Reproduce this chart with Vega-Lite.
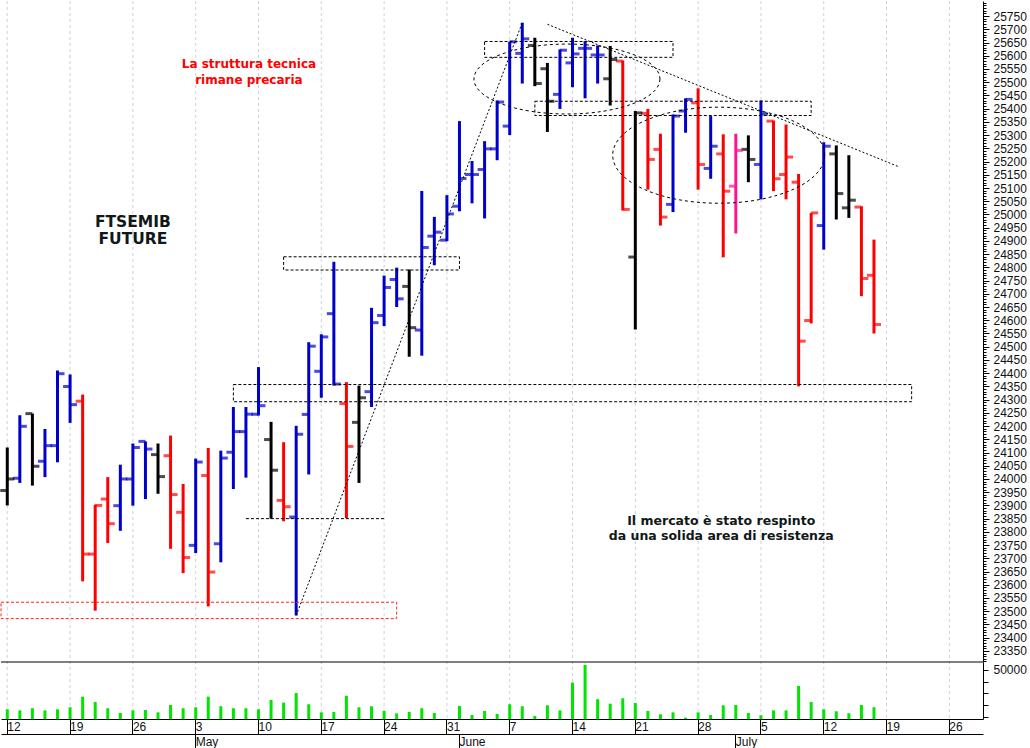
{
  "$schema": "https://vega.github.io/schema/vega-lite/v6.json",
  "width": 982,
  "height": 718,
  "padding": 0,
  "background": "white",
  "config": {
    "view": {"stroke": null},
    "font": "Liberation Sans",
    "axis": {"labelFont": "Liberation Sans", "labelFontSize": 12, "labelColor": "#111111", "tickColor": "#000000", "domainColor": "#000000", "title": null}
  },
  "datasets": {
    "mondays": [
      {"d":"2021-04-12"},{"d":"2021-04-19"},{"d":"2021-04-26"},{"d":"2021-05-03"},{"d":"2021-05-10"},{"d":"2021-05-17"},{"d":"2021-05-24"},{"d":"2021-05-31"},
      {"d":"2021-06-07"},{"d":"2021-06-14"},{"d":"2021-06-21"},{"d":"2021-06-28"},{"d":"2021-07-05"},{"d":"2021-07-12"},{"d":"2021-07-19"},{"d":"2021-07-26"}
    ],
    "ohlc": [
      {"d":"2021-04-12","o":23956,"h":24119,"l":23900,"c":24000,"k":"k"},
      {"d":"2021-04-13","o":24003,"h":24241,"l":23985,"c":24199,"k":"b"},
      {"d":"2021-04-14","o":24247,"h":24247,"l":23975,"c":24048,"k":"k"},
      {"d":"2021-04-15","o":24067,"h":24189,"l":24007,"c":24126,"k":"b"},
      {"d":"2021-04-16","o":24126,"h":24410,"l":24063,"c":24398,"k":"b"},
      {"d":"2021-04-19","o":24350,"h":24395,"l":24212,"c":24281,"k":"b"},
      {"d":"2021-04-20","o":24294,"h":24319,"l":23613,"c":23716,"k":"r"},
      {"d":"2021-04-21","o":23716,"h":23903,"l":23502,"c":23900,"k":"r"},
      {"d":"2021-04-22","o":23924,"h":24007,"l":23758,"c":23831,"k":"r"},
      {"d":"2021-04-23","o":23899,"h":24054,"l":23804,"c":24000,"k":"b"},
      {"d":"2021-04-26","o":24000,"h":24134,"l":23899,"c":24119,"k":"b"},
      {"d":"2021-04-27","o":24142,"h":24142,"l":23924,"c":24113,"k":"b"},
      {"d":"2021-04-28","o":24092,"h":24134,"l":23944,"c":24009,"k":"k"},
      {"d":"2021-04-29","o":24088,"h":24164,"l":23736,"c":23941,"k":"r"},
      {"d":"2021-04-30","o":23874,"h":23981,"l":23644,"c":23703,"k":"r"},
      {"d":"2021-05-03","o":23749,"h":24077,"l":23720,"c":24064,"k":"b"},
      {"d":"2021-05-04","o":24013,"h":24117,"l":23518,"c":23648,"k":"r"},
      {"d":"2021-05-05","o":23755,"h":24107,"l":23685,"c":24079,"k":"b"},
      {"d":"2021-05-06","o":24101,"h":24272,"l":23962,"c":24179,"k":"b"},
      {"d":"2021-05-07","o":24179,"h":24272,"l":24005,"c":24245,"k":"b"},
      {"d":"2021-05-10","o":24245,"h":24423,"l":24240,"c":24277,"k":"b"},
      {"d":"2021-05-11","o":24149,"h":24216,"l":23850,"c":24033,"k":"k"},
      {"d":"2021-05-12","o":23919,"h":24139,"l":23840,"c":23895,"k":"r"},
      {"d":"2021-05-13","o":23856,"h":24201,"l":23484,"c":24169,"k":"b"},
      {"d":"2021-05-14","o":24244,"h":24517,"l":24017,"c":24502,"k":"b"},
      {"d":"2021-05-17","o":24407,"h":24547,"l":24307,"c":24537,"k":"b"},
      {"d":"2021-05-18","o":24625,"h":24821,"l":24353,"c":24359,"k":"b"},
      {"d":"2021-05-19","o":24285,"h":24366,"l":23852,"c":24123,"k":"r"},
      {"d":"2021-05-20","o":24214,"h":24353,"l":23985,"c":24307,"k":"k"},
      {"d":"2021-05-21","o":24330,"h":24647,"l":24272,"c":24591,"k":"b"},
      {"d":"2021-05-24","o":24618,"h":24769,"l":24578,"c":24724,"k":"b"},
      {"d":"2021-05-25","o":24754,"h":24799,"l":24650,"c":24681,"k":"b"},
      {"d":"2021-05-26","o":24728,"h":24792,"l":24462,"c":24572,"k":"k"},
      {"d":"2021-05-27","o":24563,"h":25089,"l":24466,"c":24875,"k":"b"},
      {"d":"2021-05-28","o":24918,"h":24991,"l":24808,"c":24933,"k":"b"},
      {"d":"2021-05-31","o":24903,"h":25073,"l":24899,"c":25002,"k":"b"},
      {"d":"2021-06-01","o":25031,"h":25353,"l":25012,"c":25136,"k":"b"},
      {"d":"2021-06-02","o":25151,"h":25202,"l":25042,"c":25151,"k":"b"},
      {"d":"2021-06-03","o":25170,"h":25277,"l":24985,"c":25248,"k":"b"},
      {"d":"2021-06-04","o":25248,"h":25431,"l":25205,"c":25425,"k":"b"},
      {"d":"2021-06-07","o":25334,"h":25653,"l":25300,"c":25653,"k":"b"},
      {"d":"2021-06-08","o":25609,"h":25725,"l":25495,"c":25664,"k":"b"},
      {"d":"2021-06-09","o":25639,"h":25668,"l":25485,"c":25495,"k":"k"},
      {"d":"2021-06-10","o":25551,"h":25573,"l":25312,"c":25428,"k":"k"},
      {"d":"2021-06-11","o":25454,"h":25624,"l":25399,"c":25621,"k":"b"},
      {"d":"2021-06-14","o":25573,"h":25668,"l":25481,"c":25607,"k":"b"},
      {"d":"2021-06-15","o":25628,"h":25655,"l":25439,"c":25628,"k":"b"},
      {"d":"2021-06-16","o":25603,"h":25639,"l":25495,"c":25603,"k":"b"},
      {"d":"2021-06-17","o":25513,"h":25637,"l":25412,"c":25586,"k":"k"},
      {"d":"2021-06-18","o":25580,"h":25582,"l":25015,"c":25019,"k":"r"},
      {"d":"2021-06-21","o":24839,"h":25391,"l":24565,"c":25384,"k":"k"},
      {"d":"2021-06-22","o":25382,"h":25399,"l":25094,"c":25208,"k":"r"},
      {"d":"2021-06-23","o":25246,"h":25305,"l":24958,"c":24990,"k":"r"},
      {"d":"2021-06-24","o":25038,"h":25378,"l":25009,"c":25372,"k":"b"},
      {"d":"2021-06-25","o":25391,"h":25439,"l":25309,"c":25435,"k":"b"},
      {"d":"2021-06-28","o":25422,"h":25477,"l":25094,"c":25189,"k":"r"},
      {"d":"2021-06-29","o":25174,"h":25372,"l":25135,"c":25258,"k":"b"},
      {"d":"2021-06-30","o":25229,"h":25303,"l":24838,"c":25088,"k":"r"},
      {"d":"2021-07-01","o":25107,"h":25305,"l":24928,"c":25242,"k":"p"},
      {"d":"2021-07-02","o":25246,"h":25299,"l":25122,"c":25208,"k":"k"},
      {"d":"2021-07-05","o":25189,"h":25431,"l":25057,"c":25380,"k":"b"},
      {"d":"2021-07-06","o":25353,"h":25355,"l":25088,"c":25135,"k":"r"},
      {"d":"2021-07-07","o":25151,"h":25340,"l":25057,"c":25217,"k":"r"},
      {"d":"2021-07-08","o":25122,"h":25153,"l":24350,"c":24521,"k":"r"},
      {"d":"2021-07-09","o":24599,"h":25006,"l":24588,"c":25006,"k":"r"},
      {"d":"2021-07-12","o":24958,"h":25273,"l":24867,"c":25258,"k":"b"},
      {"d":"2021-07-13","o":25229,"h":25261,"l":24981,"c":25079,"k":"k"},
      {"d":"2021-07-14","o":25025,"h":25224,"l":24987,"c":25054,"k":"k"},
      {"d":"2021-07-15","o":25028,"h":25031,"l":24691,"c":24758,"k":"r"},
      {"d":"2021-07-16","o":24770,"h":24905,"l":24550,"c":24584,"k":"r"}
    ],
    "vol": [
      {"d":"2021-04-12","v":16400},{"d":"2021-04-13","v":15500},{"d":"2021-04-14","v":17300},{"d":"2021-04-15","v":15500},{"d":"2021-04-16","v":16400},
      {"d":"2021-04-19","v":18100},{"d":"2021-04-20","v":27200},{"d":"2021-04-21","v":22600},{"d":"2021-04-22","v":17300},{"d":"2021-04-23","v":13200},
      {"d":"2021-04-26","v":15500},{"d":"2021-04-27","v":15800},{"d":"2021-04-28","v":13800},{"d":"2021-04-29","v":20100},{"d":"2021-04-30","v":17300},
      {"d":"2021-05-03","v":18100},{"d":"2021-05-04","v":27200},{"d":"2021-05-05","v":19000},{"d":"2021-05-06","v":17300},{"d":"2021-05-07","v":17300},
      {"d":"2021-05-10","v":16400},{"d":"2021-05-11","v":24400},{"d":"2021-05-12","v":22100},{"d":"2021-05-13","v":30300},{"d":"2021-05-14","v":20700},
      {"d":"2021-05-17","v":13800},{"d":"2021-05-18","v":14100},{"d":"2021-05-19","v":28000},{"d":"2021-05-20","v":18100},{"d":"2021-05-21","v":19000},
      {"d":"2021-05-24","v":15000},{"d":"2021-05-25","v":12900},{"d":"2021-05-26","v":14100},{"d":"2021-05-27","v":17300},{"d":"2021-05-28","v":13200},
      {"d":"2021-06-01","v":19200},{"d":"2021-06-02","v":11500},{"d":"2021-06-03","v":15000},{"d":"2021-06-04","v":12400},
      {"d":"2021-06-07","v":20700},{"d":"2021-06-08","v":19000},{"d":"2021-06-09","v":10700},{"d":"2021-06-10","v":19800},{"d":"2021-06-11","v":15500},
      {"d":"2021-06-14","v":39200},{"d":"2021-06-15","v":54300},{"d":"2021-06-16","v":25000},{"d":"2021-06-17","v":21200},{"d":"2021-06-18","v":25800},
      {"d":"2021-06-21","v":21800},{"d":"2021-06-22","v":15000},{"d":"2021-06-23","v":12100},{"d":"2021-06-24","v":13800},{"d":"2021-06-25","v":9200},
      {"d":"2021-06-28","v":13800},{"d":"2021-06-29","v":11500},{"d":"2021-06-30","v":19800},{"d":"2021-07-01","v":20100},{"d":"2021-07-02","v":13200},
      {"d":"2021-07-05","v":11300},{"d":"2021-07-06","v":15500},{"d":"2021-07-07","v":15500},{"d":"2021-07-08","v":36300},{"d":"2021-07-09","v":22600},
      {"d":"2021-07-12","v":16400},{"d":"2021-07-13","v":14700},{"d":"2021-07-14","v":13000},{"d":"2021-07-15","v":20100},{"d":"2021-07-16","v":18100}
    ]
  },
  "layer": [
    {
      "data": {"name": "mondays"},
      "mark": {"type": "rule", "stroke": "#cdd2e2", "strokeWidth": 1, "strokeDash": [3, 3]},
      "encoding": {
        "x": {"field": "d", "type": "ordinal",
          "scale": {"type": "band", "paddingInner": 0, "paddingOuter": 0.09, "align": 0,
            "domain": ["2021-04-12","2021-04-13","2021-04-14","2021-04-15","2021-04-16","2021-04-19","2021-04-20","2021-04-21","2021-04-22","2021-04-23","2021-04-26","2021-04-27","2021-04-28","2021-04-29","2021-04-30","2021-05-03","2021-05-04","2021-05-05","2021-05-06","2021-05-07","2021-05-10","2021-05-11","2021-05-12","2021-05-13","2021-05-14","2021-05-17","2021-05-18","2021-05-19","2021-05-20","2021-05-21","2021-05-24","2021-05-25","2021-05-26","2021-05-27","2021-05-28","2021-05-31","2021-06-01","2021-06-02","2021-06-03","2021-06-04","2021-06-07","2021-06-08","2021-06-09","2021-06-10","2021-06-11","2021-06-14","2021-06-15","2021-06-16","2021-06-17","2021-06-18","2021-06-21","2021-06-22","2021-06-23","2021-06-24","2021-06-25","2021-06-28","2021-06-29","2021-06-30","2021-07-01","2021-07-02","2021-07-05","2021-07-06","2021-07-07","2021-07-08","2021-07-09","2021-07-12","2021-07-13","2021-07-14","2021-07-15","2021-07-16","2021-07-19","2021-07-20","2021-07-21","2021-07-22","2021-07-23","2021-07-26","2021-07-27","2021-07-28"]},
          "axis": {"orient": "bottom", "values": ["2021-04-12","2021-04-19","2021-04-26","2021-05-03","2021-05-10","2021-05-17","2021-05-24","2021-05-31","2021-06-07","2021-06-14","2021-06-21","2021-06-28","2021-07-05","2021-07-12","2021-07-19","2021-07-26"],
            "labelExpr": "toNumber(slice(datum.value, 8))",
            "bandPosition": 0.5, "tickSize": 15, "labelAngle": 0, "labelAlign": "left", "labelBaseline": "top", "labelPadding": -13, "labelDx": 3,
            "grid": false, "domain": true, "labelOverlap": false, "labelFlush": false, "labelBound": false, "title": null}}
      }
    },
    {
      "data": {"name": "ohlc"},
      "mark": {"type": "rule", "strokeWidth": 3},
      "encoding": {
        "x": {"field": "d", "type": "ordinal", "scale": {"type": "band"},
          "axis": {"orient": "bottom", "offset": 15, "values": ["2021-05-03","2021-06-01","2021-07-01"],
            "labelExpr": "datum.value == '2021-05-03' ? 'May' : (datum.value == '2021-06-01' ? 'June' : 'July')",
            "bandPosition": 0.5, "tickSize": 15, "labelAngle": 0, "labelAlign": "left", "labelBaseline": "top", "labelPadding": -13, "labelDx": 3,
            "grid": false, "domain": true, "labelOverlap": false, "labelFlush": false, "labelBound": false, "title": null}},
        "y": {"field": "l", "type": "quantitative",
          "scale": {"domain": [23308, 25807], "range": [661, 0], "nice": false, "zero": false},
          "axis": {"orient": "right", "format": "d", "values": [23350,23400,23450,23500,23550,23600,23650,23700,23750,23800,23850,23900,23950,24000,24050,24100,24150,24200,24250,24300,24350,24400,24450,24500,24550,24600,24650,24700,24750,24800,24850,24900,24950,25000,25050,25100,25150,25200,25250,25300,25350,25400,25450,25500,25550,25600,25650,25700,25750],
            "tickSize": 6, "labelPadding": 4, "grid": false, "domain": true, "labelOverlap": false, "labelFlush": false, "labelBound": false, "title": null}},
        "y2": {"field": "h"},
        "color": {"field": "k", "type": "nominal", "scale": {"domain": ["b","r","k","p"], "range": ["#0000cc","#ff0000","#000000","#ff1493"]}, "legend": null}
      }
    },
    {
      "data": {"name": "ohlc"},
      "mark": {"type": "tick", "orient": "horizontal", "size": 7, "thickness": 3, "xOffset": -3.5},
      "encoding": {
        "x": {"field": "d", "type": "ordinal", "scale": {"type": "band"}, "axis": null},
        "y": {"field": "o", "type": "quantitative",
          "scale": {"domain": [23308, 25807], "range": [661, 0], "nice": false, "zero": false},
          "axis": {"orient": "right", "tickCount": 250, "tickSize": 3, "labels": false, "domain": false, "grid": false, "title": null}},
        "color": {"field": "k", "type": "nominal", "scale": {"domain": ["b","r","k","p"], "range": ["#0000cc","#ff0000","#000000","#ff1493"]}, "legend": null}
      }
    },
    {
      "data": {"name": "ohlc"},
      "mark": {"type": "tick", "orient": "horizontal", "size": 7, "thickness": 3, "xOffset": 3.5},
      "encoding": {
        "x": {"field": "d", "type": "ordinal", "scale": {"type": "band"}, "axis": null},
        "y": {"field": "c", "type": "quantitative", "scale": {"domain": [23308, 25807], "range": [661, 0], "nice": false, "zero": false}, "axis": null},
        "color": {"field": "k", "type": "nominal", "scale": {"domain": ["b","r","k","p"], "range": ["#0000cc","#ff0000","#000000","#ff1493"]}, "legend": null}
      }
    },
    {
      "data": {"values": [
        {"d":"2021-05-12","d2":"2021-06-01","p":24790,"p2":24840},
        {"d":"2021-05-06","d2":"2021-07-21","p":24292,"p2":24357},
        {"d":"2021-06-03","d2":"2021-06-24","p":25594,"p2":25654},
        {"d":"2021-06-09","d2":"2021-07-09","p":25374,"p2":25428}
      ]},
      "mark": {"type": "rect", "filled": false, "stroke": "#000000", "strokeWidth": 1, "strokeDash": [3, 2]},
      "encoding": {
        "x": {"field": "d", "type": "ordinal", "bandPosition": 0.5, "scale": {"type": "band"}, "axis": null},
        "x2": {"field": "d2", "bandPosition": 0.5},
        "y": {"field": "p", "type": "quantitative", "scale": {"domain": [23308, 25807], "range": [661, 0], "nice": false, "zero": false}, "axis": null},
        "y2": {"field": "p2"}
      }
    },
    {
      "data": {"values": [{"d":"2021-04-12","d2":"2021-05-25","p":23472,"p2":23534}]},
      "mark": {"type": "rect", "filled": false, "stroke": "#ff2020", "strokeWidth": 1, "strokeDash": [3, 2]},
      "encoding": {
        "x": {"field": "d", "type": "ordinal", "bandPosition": 0, "scale": {"type": "band"}, "axis": null},
        "x2": {"field": "d2", "bandPosition": 0.5},
        "y": {"field": "p", "type": "quantitative", "scale": {"domain": [23308, 25807], "range": [661, 0], "nice": false, "zero": false}, "axis": null},
        "y2": {"field": "p2"}
      }
    },
    {
      "data": {"values": [{"d":"2021-05-07","d2":"2021-05-24","p":23850}]},
      "mark": {"type": "rule", "stroke": "#000000", "strokeWidth": 1, "strokeDash": [3, 2]},
      "encoding": {
        "x": {"field": "d", "type": "ordinal", "bandPosition": 0.5, "scale": {"type": "band"}, "axis": null},
        "x2": {"field": "d2", "bandPosition": 0.5},
        "y": {"field": "p", "type": "quantitative", "scale": {"domain": [23308, 25807], "range": [661, 0], "nice": false, "zero": false}, "axis": null}
      }
    },
    {
      "data": {"values": [
        {"g":"a","d":"2021-05-13","p":23484},
        {"g":"a","d":"2021-06-08","p":25725},
        {"g":"b","d":"2021-06-10","p":25719},
        {"g":"b","d":"2021-07-20","p":25180}
      ]},
      "mark": {"type": "line", "stroke": "#000000", "strokeWidth": 1, "strokeDash": [2, 2]},
      "encoding": {
        "x": {"field": "d", "type": "ordinal", "scale": {"type": "band"}, "axis": null},
        "y": {"field": "p", "type": "quantitative", "scale": {"domain": [23308, 25807], "range": [661, 0], "nice": false, "zero": false}, "axis": null},
        "detail": {"field": "g", "type": "nominal"}
      }
    },
    {
      "data": {"values": [{"d":"2021-06-11","p":25512}]},
      "mark": {"type": "point", "filled": false, "stroke": "#000000", "strokeWidth": 1, "strokeDash": [3, 3], "opacity": 1, "size": 34596, "xOffset": 7,
        "shape": "M1,0C1,0.2077,0.5523,0.376,0,0.376C-0.5523,0.376,-1,0.2077,-1,0C-1,-0.2077,-0.5523,-0.376,0,-0.376C0.5523,-0.376,1,-0.2077,1,0Z"},
      "encoding": {
        "x": {"field": "d", "type": "ordinal", "scale": {"type": "band"}, "axis": null},
        "y": {"field": "p", "type": "quantitative", "scale": {"domain": [23308, 25807], "range": [661, 0], "nice": false, "zero": false}, "axis": null}
      }
    },
    {
      "data": {"values": [{"d":"2021-06-29","p":25224}]},
      "mark": {"type": "point", "filled": false, "stroke": "#000000", "strokeWidth": 1, "strokeDash": [3, 3], "opacity": 1, "size": 44944, "xOffset": 8,
        "shape": "M1,0C1,0.2502,0.5523,0.453,0,0.453C-0.5523,0.453,-1,0.2502,-1,0C-1,-0.2502,-0.5523,-0.453,0,-0.453C0.5523,-0.453,1,-0.2502,1,0Z"},
      "encoding": {
        "x": {"field": "d", "type": "ordinal", "scale": {"type": "band"}, "axis": null},
        "y": {"field": "p", "type": "quantitative", "scale": {"domain": [23308, 25807], "range": [661, 0], "nice": false, "zero": false}, "axis": null}
      }
    },
    {
      "data": {"values": [{"d":"2021-05-07","p":25570,"t":"La struttura tecnica\nrimane precaria"}]},
      "mark": {"type": "text", "font": "DejaVu Sans", "fontWeight": "bold", "fontSize": 12, "color": "#ff0000", "lineBreak": "\n", "lineHeight": 16.5, "align": "center", "baseline": "middle", "dx": 3},
      "encoding": {
        "x": {"field": "d", "type": "ordinal", "scale": {"type": "band"}, "axis": null},
        "y": {"field": "p", "type": "quantitative", "scale": {"domain": [23308, 25807], "range": [661, 0], "nice": false, "zero": false}, "axis": null},
        "text": {"field": "t"}
      }
    },
    {
      "data": {"values": [{"d":"2021-04-26","p":24973,"t":"FTSEMIB\nFUTURE"}]},
      "mark": {"type": "text", "font": "DejaVu Sans", "fontWeight": "bold", "fontSize": 15.5, "color": "#101818", "lineBreak": "\n", "lineHeight": 17, "align": "center", "baseline": "middle"},
      "encoding": {
        "x": {"field": "d", "type": "ordinal", "scale": {"type": "band"}, "axis": null},
        "y": {"field": "p", "type": "quantitative", "scale": {"domain": [23308, 25807], "range": [661, 0], "nice": false, "zero": false}, "axis": null},
        "text": {"field": "t"}
      }
    },
    {
      "data": {"values": [{"d":"2021-06-30","p":23840,"t":"Il mercato è stato respinto\nda una solida area di resistenza"}]},
      "mark": {"type": "text", "font": "DejaVu Sans", "fontWeight": "bold", "fontSize": 12.5, "color": "#101818", "lineBreak": "\n", "lineHeight": 14.6, "align": "center", "baseline": "middle", "dx": -2},
      "encoding": {
        "x": {"field": "d", "type": "ordinal", "scale": {"type": "band"}, "axis": null},
        "y": {"field": "p", "type": "quantitative", "scale": {"domain": [23308, 25807], "range": [661, 0], "nice": false, "zero": false}, "axis": null},
        "text": {"field": "t"}
      }
    },
    {
      "data": {"name": "vol"},
      "mark": {"type": "bar", "size": 3, "color": "#00e600"},
      "encoding": {
        "x": {"field": "d", "type": "ordinal", "scale": {"type": "band"}, "axis": null},
        "y": {"field": "v", "type": "quantitative",
          "scale": {"domain": [8100, 56800], "range": [718, 661], "nice": false, "zero": false},
          "axis": {"orient": "right", "format": "d", "values": [10000, 20000, 30000, 40000, 50000], "labelExpr": "datum.value == 50000 ? '50000' : ''",
            "tickSize": 5, "labelPadding": 5, "grid": false, "domain": true, "labelOverlap": false, "labelBound": false, "title": null}},
        "y2": {"datum": 8100}
      }
    },
    {
      "data": {"values": [{}]},
      "mark": {"type": "rule", "color": "#000000", "strokeWidth": 1},
      "encoding": {
        "y": {"datum": 56800, "type": "quantitative", "scale": {"domain": [8100, 56800], "range": [718, 661], "nice": false, "zero": false}, "axis": null}
      }
    }
  ],
  "resolve": {"scale": {"y": "independent"}, "axis": {"x": "independent", "y": "independent"}}
}
